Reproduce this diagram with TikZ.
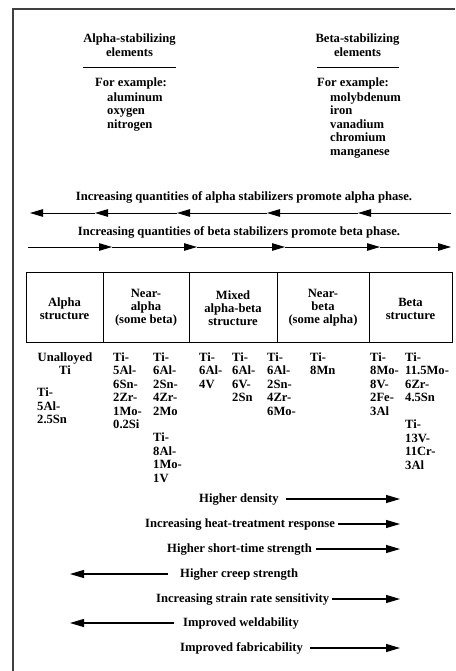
\documentclass[tikz,border=0pt]{standalone}
\usepackage{fontspec}
\setmainfont{Liberation Serif}
\usetikzlibrary{arrows.meta}
\begin{document}
\begin{tikzpicture}[x=1pt,y=-1pt,
  txt/.style={font=\bfseries\fontsize{12.6}{13.5}\selectfont, inner sep=0pt},
  lst/.style={txt, align=left, anchor=north west},
  ctr/.style={txt, align=center},
  hdr/.style={ctr, font=\bfseries\fontsize{12.6}{12.8}\selectfont},
  rowtxt/.style={txt, text height=8.8pt, text depth=2.6pt},
  ln/.style={line width=1pt},
  frame/.style={line width=1.3pt, black!75},
  arr/.style={line width=1pt, -{Triangle[length=13pt,width=7.5pt]}},
  barr/.style={line width=1.1pt, -{Triangle[length=14pt,width=8pt]}}]
\useasboundingbox (0,0) rectangle (455,671);
% frame
\draw[frame] (13,671) -- (13,9) -- (455,9);
% header
\node[ctr] (ah) at (129.5,45) {Alpha-stabilizing\\elements};
\node[ctr] (bh) at (357.5,45) {Beta-stabilizing\\elements};
\draw[ln] (83,68) -- (176,68);
\draw[ln] (317,68) -- (399,68);
\node[lst] (aex) at (95,77.5) {For example:};
\node[lst] (alist) at (107,92.5) {aluminum\\oxygen\\nitrogen};
\node[lst] (bex) at (317,77.5) {For example:};
\node[lst] (blist) at (330,92.5) {molybdenum\\iron\\vanadium\\chromium\\manganese};
% alpha arrow
\node[rowtxt] (atext) at (244,197) {Increasing quantities of alpha stabilizers promote alpha phase.};
\coordinate (a0) at (451,213);
\coordinate (a1) at (358,213);
\coordinate (a2) at (267,213);
\coordinate (a3) at (177,213);
\coordinate (a4) at (95,213);
\coordinate (a5) at (30,213);
\draw[arr] (a0) -- (a1);
\draw[arr] (a1) -- (a2);
\draw[arr] (a2) -- (a3);
\draw[arr] (a3) -- (a4);
\draw[arr] (a4) -- (a5);
% beta arrow
\node[rowtxt] (btext) at (239,232) {Increasing quantities of beta stabilizers promote beta phase.};
\coordinate (b0) at (28,247);
\coordinate (b1) at (112,247);
\coordinate (b2) at (197,247);
\coordinate (b3) at (285,247);
\coordinate (b4) at (380,247);
\coordinate (b5) at (451,247);
\draw[arr] (b0) -- (b1);
\draw[arr] (b1) -- (b2);
\draw[arr] (b2) -- (b3);
\draw[arr] (b3) -- (b4);
\draw[arr] (b4) -- (b5);
% table
\draw[ln] (26,272) rectangle (452,342);
\foreach \xx in {103,189,277,369} \draw[ln] (\xx,272) -- (\xx,342);
\node[hdr] (c1) at (64.5,309) {Alpha\\structure};
\node[hdr] (c2) at (146,308) {Near-\\alpha\\(some beta)};
\node[hdr] (c3) at (233,308) {Mixed\\alpha-beta\\structure};
\node[hdr] (c4) at (323,308) {Near-\\beta\\(some alpha)};
\node[hdr] (c5) at (410.5,309) {Beta\\structure};
% compounds
\node[ctr, anchor=north] (u) at (65,352.5) {Unalloyed\\Ti};
\node[lst] (k1) at (37,388) {Ti-\\5Al-\\2.5Sn};
\node[lst] (k2) at (113,352.5) {Ti-\\5Al-\\6Sn-\\2Zr-\\1Mo-\\0.2Si};
\node[lst] (k3) at (153,352.5) {Ti-\\6Al-\\2Sn-\\4Zr-\\2Mo};
\node[lst] (k4) at (153,433) {Ti-\\8Al-\\1Mo-\\1V};
\node[lst] (k5) at (199,352.5) {Ti-\\6Al-\\4V};
\node[lst] (k6) at (232,352.5) {Ti-\\6Al-\\6V-\\2Sn};
\node[lst] (k7) at (267,352.5) {Ti-\\6Al-\\2Sn-\\4Zr-\\6Mo-};
\node[lst] (k8) at (310,352.5) {Ti-\\8Mn};
\node[lst] (k9) at (370,352.5) {Ti-\\8Mo-\\8V-\\2Fe-\\3Al};
\node[lst] (k10) at (405,352.5) {Ti-\\11.5Mo-\\6Zr-\\4.5Sn};
\node[lst] (k11) at (405,420) {Ti-\\13V-\\11Cr-\\3Al};
% property arrows
\node[rowtxt, anchor=west] (p1) at (199,499) {Higher density};
\coordinate (e1) at (400,499);
\draw[barr] ([xshift=7pt]p1.east) -- (e1);
\node[rowtxt, anchor=west] (p2) at (145,524) {Increasing heat-treatment response};
\coordinate (e2) at (400,524);
\draw[barr] ([xshift=3pt]p2.east) -- (e2);
\node[rowtxt, anchor=west] (p3) at (167,549) {Higher short-time strength};
\coordinate (e3) at (400,549);
\draw[barr] ([xshift=4pt]p3.east) -- (e3);
\node[rowtxt, anchor=west] (p4) at (180,574) {Higher creep strength};
\coordinate (e4) at (70,574);
\draw[barr] ([xshift=-12pt]p4.west) -- (e4);
\node[rowtxt, anchor=west] (p5) at (156,599) {Increasing strain rate sensitivity};
\coordinate (e5) at (400,599);
\draw[barr] ([xshift=3pt]p5.east) -- (e5);
\node[rowtxt, anchor=west] (p6) at (183,623) {Improved weldability};
\coordinate (e6) at (70,623);
\draw[barr] ([xshift=-9pt]p6.west) -- (e6);
\node[rowtxt, anchor=west] (p7) at (180,648) {Improved fabricability};
\coordinate (e7) at (400,648);
\draw[barr] ([xshift=7pt]p7.east) -- (e7);
\end{tikzpicture}
\end{document}
